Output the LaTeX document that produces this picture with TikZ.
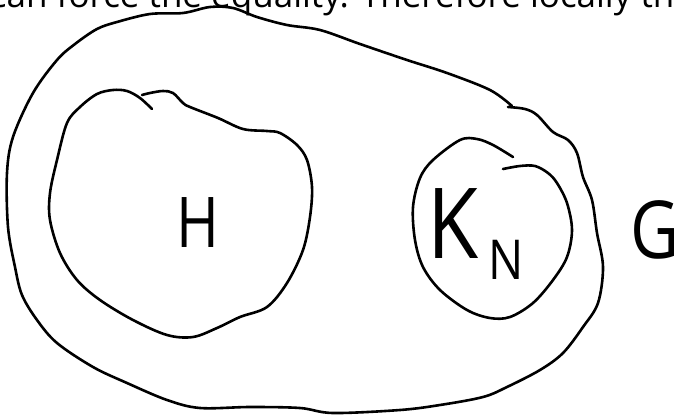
\documentclass[tikz,border=0pt]{standalone}
\usepackage{fontspec}
\newfontfamily\osans{Open Sans}
\tikzset{
  stroke/.style={line width=2.6pt, line cap=round, line join=round, black},
  hand/.style={inner sep=0pt, outer sep=0pt, text=black},
}
\begin{document}
\begin{tikzpicture}[x=1pt,y=-1pt]
\useasboundingbox (0,0) rectangle (678,416);
\fill[white] (0,0) rectangle (678,416);
\clip (0,0) rectangle (678,416);
% cut-off sentence at the top
\node[hand, anchor=base west] (txt) at (-10,7)
  {\osans\fontsize{35}{40}\selectfont can force the equality. Therefore locally th};
% outer blob G
\draw[stroke] plot[smooth, tension=0.55] coordinates {
 (512,106) (490,90) (447,73) (407,60) (360,44) (320,30) (287,25) (257,17) (233,8) (210,7)
 (183,13) (150,14) (117,22) (97,29) (75,44) (57,60) (33,93) (13,137) (7,173) (8,227)
 (15,267) (22,295) (37,320) (57,343) (93,367) (127,383) (167,400) (200,408) (250,407)
 (300,408) (333,413) (400,410) (440,405) (483,397) (507,387) (540,370) (563,353)
 (583,327) (598,303) (603,267) (597,233) (592,200) (583,177) (577,153) (568,140)
 (553,132) (537,115) (525,109) (508,107)};
% H blob
\draw[stroke] plot[smooth, tension=0.55] coordinates {
 (152,109) (140,98) (127,91) (113,90) (97,94) (80,107) (67,123) (57,160) (50,193)
 (50,220) (60,253) (77,280) (100,300) (133,320) (167,335) (193,337) (217,328)
 (240,317) (267,307) (287,283) (303,250) (310,217) (312,187) (307,160) (297,145)
 (280,133) (267,131) (243,129) (218,118) (190,107) (183,103) (173,93) (163,91)
 (150,93) (142,95)};
% K_N circle
\draw[stroke] plot[smooth, tension=0.55] coordinates {
 (513,157) (493,145) (477,139) (460,140) (433,160) (420,178) (413,207) (415,240)
 (423,267) (440,290) (467,310) (490,318) (510,317) (533,303) (553,280) (567,257)
 (572,230) (567,203) (557,183) (548,173) (535,166) (520,166) (503,169)};
% labels
\node[hand, anchor=base west, xscale=0.83] (H) at (176,247)
  {\osans\fontsize{70}{70}\selectfont H};
\node[hand, anchor=base west, xscale=0.85] (KN) at (427,258)
  {\osans\fontsize{98}{98}\selectfont K\kern12pt\raisebox{-21pt}{\fontsize{55}{55}\selectfont N}};
\node[hand, anchor=base west, xscale=0.84] (G) at (630,258)
  {\osans\fontsize{80}{80}\selectfont G};
\end{tikzpicture}
\end{document}
